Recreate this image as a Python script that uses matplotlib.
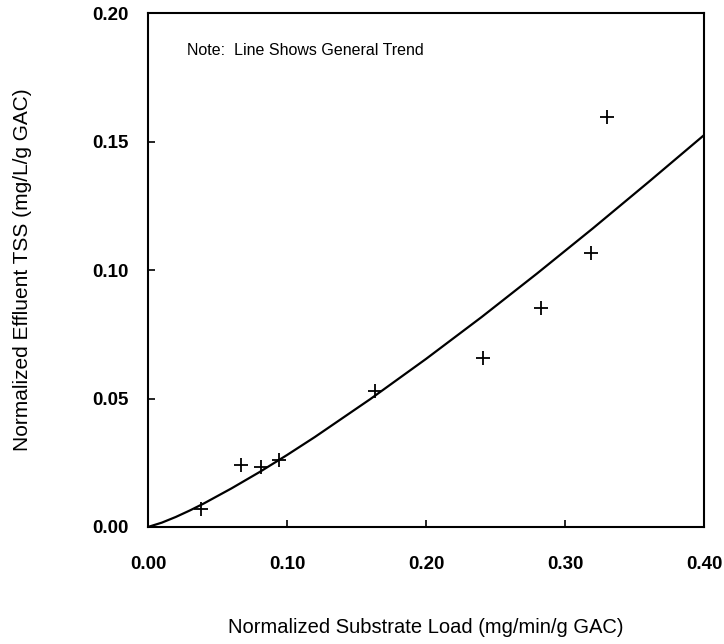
import matplotlib.pyplot as plt

plt.rcParams['font.family'] = ['Liberation Sans', 'DejaVu Sans']

load = [0.038, 0.067, 0.081, 0.094, 0.163, 0.241, 0.283, 0.319, 0.330]
tss = [0.0070, 0.0241, 0.0234, 0.0261, 0.0529, 0.0658, 0.0852, 0.1066, 0.1595]

# general trend line, read at a few x positions
trend_x = [0.0, 0.01, 0.02, 0.03, 0.04, 0.06, 0.08, 0.10, 0.12, 0.16,
           0.20, 0.24, 0.28, 0.32, 0.36, 0.40]
trend_y = [0.0, 0.0017, 0.0039, 0.0064, 0.0091, 0.0150, 0.0213, 0.0280, 0.0350, 0.0498,
           0.0654, 0.0817, 0.0987, 0.1162, 0.1342, 0.1525]

xticks = [0.0, 0.1, 0.2, 0.3, 0.4]
xtick_labels = ['0.00', '0.10', '0.20', '0.30', '0.40']
yticks = [0.0, 0.05, 0.10, 0.15, 0.20]
ytick_labels = ['0.00', '0.05', '0.10', '0.15', '0.20']

fig = plt.figure(figsize=(7.24, 6.44), dpi=100)
ax = fig.add_axes([0.2044, 0.1817, 0.768, 0.798])

ax.plot(trend_x, trend_y, color='black', linewidth=1.6)
ax.plot(load, tss, linestyle='none', marker='+', color='black',
        markersize=10, markeredgewidth=1.3)

ax.set_xlim(0, 0.40)
ax.set_ylim(0, 0.20)
ax.set_xticks(xticks)
ax.set_xticklabels(xtick_labels, fontsize=13.5, fontweight='bold')
ax.set_yticks(yticks)
ax.set_yticklabels(ytick_labels, fontsize=13.5, fontweight='bold')
ax.tick_params(direction='in', length=5, width=1.2)
ax.tick_params(axis='x', pad=21)
ax.tick_params(axis='y', pad=14)
for s in ax.spines.values():
    s.set_linewidth(1.5)

# note near the top left corner
ax.text(0.028, 0.1856, 'Note:  Line Shows General Trend', fontsize=11.5, va='center')

ax.set_xlabel('Normalized Substrate Load (mg/min/g GAC)', fontsize=14.5, labelpad=32)
ax.set_ylabel('Normalized Effluent TSS (mg/L/g GAC)', fontsize=15, labelpad=43)

fig.savefig('out.png', dpi=100)
